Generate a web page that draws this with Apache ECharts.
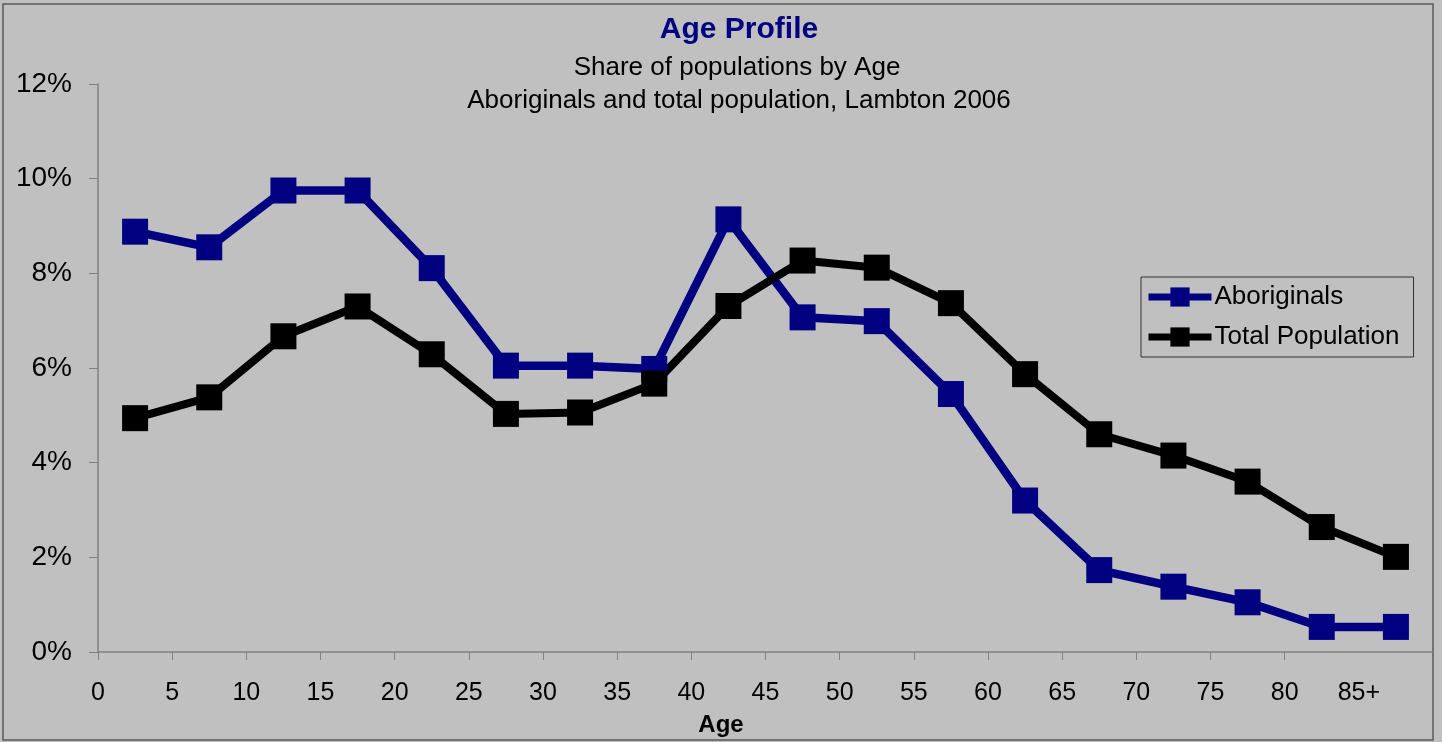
<!DOCTYPE html>
<html>
<head>
<meta charset="utf-8">
<script src="https://cdn.jsdelivr.net/npm/echarts@6/dist/echarts.min.js"></script>
<style>
  html, body { margin: 0; padding: 0; background: #c0c0c0; }
  #chart { width: 1442px; height: 742px; }
</style>
</head>
<body>
<div id="chart"></div>
<script>
// Age groups (5-year bands), plotted at band centres
const categories = ['0-4','5-9','10-14','15-19','20-24','25-29','30-34','35-39','40-44',
                    '45-49','50-54','55-59','60-64','65-69','70-74','75-79','80-84','85+'];
// Tick labels placed at band boundaries
const tickValues = [0,5,10,15,20,25,30,35,40,45,50,55,60,65,70,75,80,85];
const tickLabels = ['0','5','10','15','20','25','30','35','40','45','50','55','60','65','70','75','80','85+'];
const yTicks = [0,2,4,6,8,10,12];

// Share of population (%) by age group
const aboriginals = [8.88, 8.55, 9.75, 9.75, 8.11, 6.05, 6.05, 5.98, 9.14, 7.07, 6.99, 5.45, 3.20, 1.73, 1.38, 1.05, 0.53, 0.53];
const totalPopulation = [4.94, 5.38, 6.67, 7.30, 6.29, 5.03, 5.06, 5.67, 7.31, 8.27, 8.12, 7.37, 5.87, 4.60, 4.15, 3.60, 2.64, 2.01];

const FONT = '"Liberation Sans", Arial, sans-serif';
const chart = echarts.init(document.getElementById('chart'), null, { renderer: 'canvas' });

chart.setOption({
  backgroundColor: '#c0c0c0',
  animation: false,
  textStyle: { fontFamily: FONT },
  graphic: [
    { type: 'rect', shape: { x: 3, y: 4, width: 1430, height: 736 },
      style: { fill: 'none', stroke: '#5a5a5a', lineWidth: 1.5 }, z: 0 },
    { type: 'text', x: 739, y: 30, style: { text: 'Age Profile', font: 'bold 30px ' + FONT, fill: '#000080', textAlign: 'center', textVerticalAlign: 'middle' } },
    { type: 'text', x: 737, y: 68, style: { text: 'Share of populations by Age', font: '26px ' + FONT, fill: '#000', textAlign: 'center', textVerticalAlign: 'middle' } },
    { type: 'text', x: 739, y: 101, style: { text: 'Aboriginals and total population, Lambton 2006', font: '26px ' + FONT, fill: '#000', textAlign: 'center', textVerticalAlign: 'middle' } },
    { type: 'text', x: 721, y: 725, style: { text: 'Age', font: 'bold 24px ' + FONT, fill: '#000', textAlign: 'center', textVerticalAlign: 'middle' } }
  ],
  legend: {
    orient: 'vertical',
    left: 1141,
    top: 277,
    padding: [7, 14, 7, 4],
    itemGap: 14,
    itemWidth: 63,
    itemHeight: 24,
    borderColor: '#333',
    borderWidth: 1,
    backgroundColor: 'transparent',
    lineStyle: { width: 7 },
    textStyle: { fontSize: 26, color: '#000', fontFamily: FONT, padding: [0, 0, 0, -2] },
    data: ['Aboriginals', 'Total Population']
  },
  grid: { left: 98, right: 9, top: 84, bottom: 90, containLabel: false },
  xAxis: [
    {
      type: 'category',
      data: categories,
      boundaryGap: true,
      show: false
    },
    {
      type: 'value',
      position: 'bottom',
      min: 0, max: 90, interval: 5,
      axisLine: { show: true, lineStyle: { color: '#808080', width: 1.5 } },
      axisTick: { show: true, inside: false, length: 8, lineStyle: { color: '#808080' },
                  customValues: tickValues.slice(0, 17) },
      axisLabel: {
        customValues: tickValues,
        fontSize: 25, color: '#000', margin: 29, fontFamily: FONT,
        formatter: function (v) { const i = tickValues.indexOf(v); return i >= 0 ? tickLabels[i] : ''; }
      },
      splitLine: { show: false }
    }
  ],
  yAxis: {
    type: 'value',
    min: 0, max: 12, interval: 2,
    axisLine: { show: true, lineStyle: { color: '#808080', width: 1.5 } },
    axisTick: { show: true, inside: false, length: 9, lineStyle: { color: '#808080' } },
    axisLabel: { fontSize: 28, color: '#000', margin: 26, fontFamily: FONT,
                 formatter: function (v) { return yTicks.indexOf(v) >= 0 ? v + '%' : ''; } },
    splitLine: { show: false }
  },
  series: [
    {
      name: 'Aboriginals', type: 'line', xAxisIndex: 0, data: aboriginals,
      symbol: 'rect', symbolSize: 26, showAllSymbol: true,
      lineStyle: { color: '#000080', width: 8.5 },
      itemStyle: { color: '#000080' }
    },
    {
      name: 'Total Population', type: 'line', xAxisIndex: 0, data: totalPopulation,
      symbol: 'rect', symbolSize: 26, showAllSymbol: true,
      lineStyle: { color: '#000000', width: 8 },
      itemStyle: { color: '#000000' }
    }
  ]
});
</script>
</body>
</html>
